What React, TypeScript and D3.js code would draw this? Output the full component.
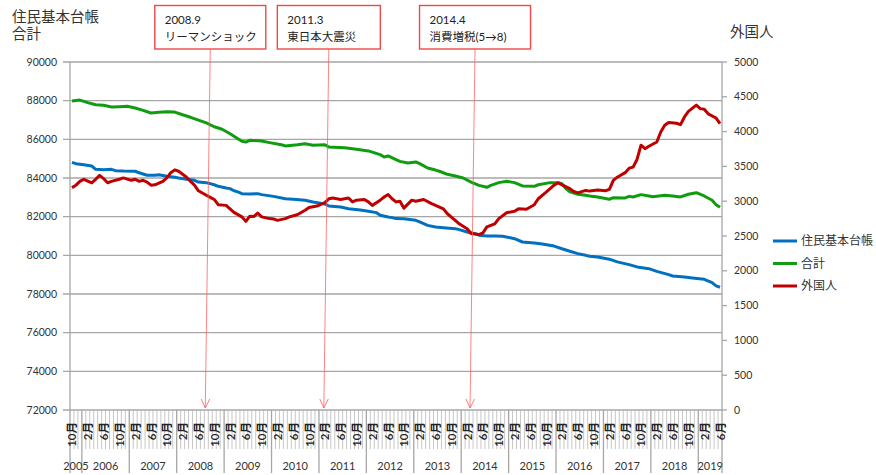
import React from "react";
import * as d3 from "d3";

// months counted from 2005-10 (index 0) to 2019-06 (index 164)
const months = d3.timeMonth.range(new Date(2005, 9, 1), new Date(2019, 6, 1));

const seriesNames = ["住民基本台帳", "合計", "外国人"];

// [month index, value]
const juminValues: [number, number][] = [
  [0, 84810], [1, 84740], [3, 84690], [5, 84620], [6, 84450], [8, 84430], [10, 84450], [11, 84380],
  [13, 84360], [16, 84350], [17, 84270], [19, 84140], [21, 84140], [22, 84170], [24, 84090], [26, 84040],
  [27, 84000], [29, 83930], [31, 83880], [32, 83790], [34, 83760], [36, 83650], [37, 83570], [39, 83480],
  [40, 83450], [41, 83340], [42, 83280], [43, 83190], [45, 83170], [47, 83190], [48, 83140], [51, 83050],
  [54, 82930], [56, 82900], [59, 82850], [61, 82760], [64, 82660], [65, 82550], [68, 82500], [70, 82410],
  [73, 82340], [75, 82280], [77, 82210], [78, 82070], [80, 81980], [81, 81950], [82, 81900], [84, 81890],
  [87, 81810], [88, 81730], [90, 81550], [92, 81470], [94, 81430], [97, 81380], [98, 81330], [100, 81210],
  [102, 81120], [103, 81040], [105, 81000], [107, 81000], [109, 80990], [112, 80860], [114, 80690],
  [117, 80640], [119, 80590], [122, 80480], [124, 80340], [126, 80210], [128, 80090], [130, 80000],
  [131, 79950], [133, 79910], [136, 79800], [138, 79660], [141, 79520], [143, 79400], [146, 79310],
  [148, 79170], [151, 79000], [152, 78930], [155, 78880], [157, 78830], [160, 78760], [162, 78590],
  [163, 78420], [164, 78350],
];

const goukeiValues: [number, number][] = [
  [0, 87980], [2, 88030], [4, 87900], [6, 87790], [8, 87760], [10, 87670], [12, 87690], [14, 87710],
  [16, 87620], [18, 87500], [20, 87360], [22, 87400], [24, 87430], [26, 87410], [28, 87270], [30, 87140],
  [32, 86990], [34, 86850], [36, 86650], [38, 86520], [40, 86290], [43, 85900], [44, 85860], [45, 85950],
  [48, 85910], [50, 85830], [53, 85720], [54, 85660], [57, 85720], [59, 85770], [61, 85690], [64, 85720],
  [65, 85600], [69, 85570], [72, 85490], [75, 85400], [78, 85210], [79, 85090], [80, 85140], [82, 84950],
  [83, 84860], [85, 84780], [87, 84830], [88, 84740], [90, 84520], [92, 84410], [93, 84350], [95, 84190],
  [97, 84100], [99, 84000], [101, 83790], [103, 83620], [105, 83520], [106, 83620], [108, 83760],
  [110, 83830], [112, 83760], [114, 83590], [117, 83570], [118, 83650], [121, 83760], [123, 83760],
  [124, 83700], [125, 83450], [126, 83280], [128, 83160], [130, 83110], [131, 83070], [133, 83020],
  [136, 82900], [137, 82980], [140, 82970], [141, 83050], [142, 83020], [144, 83140], [146, 83070],
  [147, 83030], [150, 83110], [152, 83070], [154, 83020], [156, 83160], [158, 83240], [160, 83070],
  [162, 82850], [163, 82620], [164, 82490],
];

const gaikokuValues: [number, number][] = [
  [0, 3195], [1, 3230], [2, 3285], [3, 3315], [5, 3265], [6, 3315], [7, 3370], [8, 3325], [9, 3265],
  [10, 3285], [12, 3315], [13, 3335], [15, 3300], [16, 3315], [17, 3285], [18, 3300], [19, 3275],
  [20, 3230], [21, 3235], [23, 3285], [24, 3335], [25, 3410], [26, 3450], [27, 3430], [29, 3345],
  [30, 3285], [31, 3230], [32, 3150], [34, 3085], [35, 3055], [36, 3025], [37, 2950], [39, 2940],
  [40, 2890], [41, 2840], [43, 2775], [44, 2710], [45, 2785], [46, 2780], [47, 2830], [48, 2775],
  [50, 2750], [51, 2745], [52, 2725], [54, 2750], [55, 2775], [57, 2805], [59, 2870], [60, 2910],
  [62, 2930], [64, 2980], [65, 3035], [66, 3045], [68, 3025], [70, 3045], [71, 2990], [72, 3015],
  [74, 3025], [75, 2990], [76, 2940], [78, 3015], [79, 3060], [80, 3095], [81, 3035], [82, 2990],
  [83, 3000], [84, 2900], [86, 3015], [87, 3000], [89, 3025], [91, 2965], [92, 2940], [94, 2890],
  [95, 2820], [97, 2725], [98, 2675], [100, 2605], [101, 2535], [103, 2520], [104, 2545], [105, 2630],
  [107, 2675], [108, 2750], [110, 2835], [112, 2855], [113, 2890], [115, 2885], [117, 2950], [118, 3035],
  [120, 3130], [122, 3230], [123, 3265], [124, 3235], [126, 3180], [127, 3140], [128, 3120], [130, 3155],
  [131, 3145], [133, 3160], [135, 3150], [136, 3170], [137, 3300], [138, 3345], [140, 3410], [141, 3475],
  [142, 3490], [143, 3600], [144, 3805], [145, 3755], [146, 3790], [148, 3850], [149, 3995], [150, 4090],
  [151, 4130], [153, 4120], [154, 4100], [155, 4210], [156, 4290], [158, 4380], [159, 4330], [160, 4320],
  [161, 4255], [163, 4195], [164, 4115],
];

const leftTicks = [72000, 74000, 76000, 78000, 80000, 82000, 84000, 86000, 88000, 90000];
const rightTicks = [0, 500, 1000, 1500, 2000, 2500, 3000, 3500, 4000, 4500, 5000];

const events = [
  { month: "2008-09", line1: "2008.9", line2: "リーマンショック" },
  { month: "2011-03", line1: "2011.3", line2: "東日本大震災" },
  { month: "2014-04", line1: "2014.4", line2: "消費増税(5→8)" },
];

const FONT = "Lato, 'Noto Sans CJK JP', sans-serif";
const colors = ["#0070c0", "#0f9d0f", "#c00000"];
const gridColor = "#a6a6a6";
const boxWidths = [111, 103, 111];

export default function App() {
  const width = 876;
  const height = 475;
  const plot = { left: 70, right: 722, top: 62, bottom: 410 };

  const x = d3
    .scaleBand<number>()
    .domain(d3.range(months.length))
    .range([plot.left, plot.right])
    .padding(0);
  const bw = x.bandwidth();
  const cx = (i: number) => (x(i) as number) + bw / 2;

  const yL = d3.scaleLinear().domain([72000, 90000]).range([plot.bottom, plot.top]);
  const yR = d3.scaleLinear().domain([0, 5000]).range([plot.bottom, plot.top]);

  const lineL = d3
    .line<[number, number]>()
    .x((d) => cx(d[0]))
    .y((d) => yL(d[1]));
  const lineR = d3
    .line<[number, number]>()
    .x((d) => cx(d[0]))
    .y((d) => yR(d[1]));

  const fmtKey = d3.timeFormat("%Y-%m");
  const monthIndex = (key: string) => months.findIndex((m) => fmtKey(m) === key);

  const years = d3.groups(
    months.map((m, i) => ({ m, i })),
    (d) => d.m.getFullYear()
  );

  const monthLabelBottom = 449;
  const axisBottom = 473;

  return (
    <svg
      width={width}
      height={height}
      style={{ position: "absolute", left: 0, top: 0, background: "#fff" }}
      fontFamily={FONT}
    >
      {/* horizontal gridlines + left ticks */}
      {leftTicks.map((t) => (
        <g key={"l" + t}>
          <line x1={plot.left - 7} x2={plot.right} y1={yL(t)} y2={yL(t)} stroke={gridColor} strokeWidth={1.3} />
          <text x={57} y={yL(t)} dy="0.35em" textAnchor="end" fontSize={10.5} fill="#333">
            {t}
          </text>
        </g>
      ))}
      {/* right ticks */}
      {rightTicks.map((t) => (
        <g key={"r" + t}>
          <line x1={plot.right} x2={plot.right + 5} y1={yR(t)} y2={yR(t)} stroke={gridColor} strokeWidth={1.3} />
          <text x={734} y={yR(t)} dy="0.35em" textAnchor="start" fontSize={10.5} fill="#333">
            {t}
          </text>
        </g>
      ))}

      {/* axes lines */}
      <line x1={plot.left} x2={plot.left} y1={plot.top} y2={axisBottom} stroke={gridColor} strokeWidth={1.3} />
      <line x1={plot.right} x2={plot.right} y1={plot.top} y2={axisBottom} stroke={gridColor} strokeWidth={1.3} />

      {/* month tick lines */}
      {months.map((m, i) =>
        i === 0 ? null : (
          <line
            key={"mt" + i}
            x1={x(i) as number}
            x2={x(i) as number}
            y1={plot.bottom}
            y2={m.getMonth() === 0 ? axisBottom : monthLabelBottom}
            stroke={m.getMonth() === 0 ? gridColor : "#b8b8b8"}
            strokeWidth={m.getMonth() === 0 ? 1.3 : 0.8}
          />
        )
      )}

      {/* month labels */}
      {months.map((m, i) =>
        i % 4 === 0 ? (
          <text
            key={"ml" + i}
            transform={`translate(${cx(i)},422) rotate(-90)`}
            textAnchor="end"
            dominantBaseline="central"
            fontSize={11.5}
            fontWeight={600}
            fill="#222"
          >
            {`${m.getMonth() + 1}月`}
          </text>
        ) : null
      )}

      {/* year labels */}
      {years.map(([yr, ms]) => {
        const first = ms[0].i;
        const last = ms[ms.length - 1].i;
        const mid = ((x(first) as number) + (x(last) as number) + bw) / 2;
        return (
          <text key={"y" + yr} x={mid} y={466} dy="0.35em" textAnchor="middle" fontSize={11} fill="#333">
            {yr}
          </text>
        );
      })}

      {/* series */}
      <path d={lineL(juminValues) || ""} fill="none" stroke={colors[0]} strokeWidth={3} strokeLinejoin="round" />
      <path d={lineL(goukeiValues) || ""} fill="none" stroke={colors[1]} strokeWidth={3} strokeLinejoin="round" />
      <path d={lineR(gaikokuValues) || ""} fill="none" stroke={colors[2]} strokeWidth={3} strokeLinejoin="round" />

      {/* axis titles */}
      <text x={12} y={22} fontSize={14.5} fill="#333">住民基本台帳</text>
      <text x={12} y={39} fontSize={14.5} fill="#333">合計</text>
      <text x={730} y={37} fontSize={14.5} fill="#333">外国人</text>

      {/* annotations */}
      {events.map((ev, k) => {
        const i = monthIndex(ev.month);
        const c = cx(i);
        const w = boxWidths[k];
        const tipX = c - 5;
        const tipY = plot.bottom - 2;
        return (
          <g key={ev.month}>
            <line x1={c} y1={49} x2={tipX} y2={tipY} stroke="#ff5a5a" strokeOpacity={0.75} strokeWidth={1} />
            <path
              d={`M${tipX - 4},${tipY - 9} L${tipX},${tipY} L${tipX + 4.5},${tipY - 9}`}
              fill="none"
              stroke="#ff5a5a"
              strokeOpacity={0.8}
              strokeWidth={1}
            />
            <rect x={c - w / 2} y={5.5} width={w} height={43.5} fill="#fff" stroke="#f04848" strokeWidth={1.4} />
            <text x={c - w / 2 + 10} y={24} fontSize={11.5} fill="#222">{ev.line1}</text>
            <text x={c - w / 2 + 10} y={41} fontSize={11.5} fill="#222">{ev.line2}</text>
          </g>
        );
      })}

      {/* legend */}
      {seriesNames.map((name, k) => {
        const ly = 241 + k * 22.5;
        return (
          <g key={name}>
            <line x1={773} x2={797} y1={ly} y2={ly} stroke={colors[k]} strokeWidth={3} />
            <text x={801} y={ly} dy="0.35em" fontSize={12} fill="#333">{name}</text>
          </g>
        );
      })}
    </svg>
  );
}
